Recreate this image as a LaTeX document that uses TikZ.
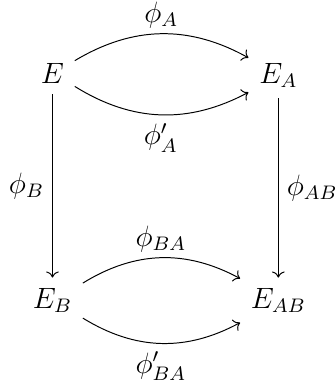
\documentclass[tikz,border=0pt]{standalone}
\usepackage{amsmath,amssymb}
\usepackage{tikz}
\usetikzlibrary{arrows.meta, positioning}
\tikzset{
  %% Objects of the square
  obj/.style={anchor=base, inner sep=4.2pt},
  %% Morphisms
  mor/.style={->, line width=0.4pt},
  %% Morphism labels
  lbl/.style={inner sep=3.3pt},
  lblup/.style={above, inner sep=2.2pt},
}

\begin{document}
\begin{tikzpicture}[every node/.style={font=\fontsize{12}{14.5}\selectfont}]
  \useasboundingbox (-0.753,-4.343) rectangle (4.04,1.195);

  %% Corners
  \node[obj] (E)   at (0,0)        {$E$};
  \node[obj] (EA)  at (3.24,0)     {$E_A$};
  \node[obj] (EB)  at (0,-3.23)    {$E_B$};
  \node[obj] (EAB) at (3.24,-3.23) {$E_{AB}$};

  %% Parallel pairs
  \draw[mor] (E)  to[bend left=30]  node[lblup]      {$\phi_A$}     (EA);
  \draw[mor] (E)  to[bend right=30] node[lbl, below] {$\phi'_A$}    (EA);
  \draw[mor] (EB) to[bend left=30]  node[lblup]      {$\phi_{BA}$}  (EAB);
  \draw[mor] (EB) to[bend right=30] node[lbl, below] {$\phi'_{BA}$} (EAB);

  %% Vertical arrows
  \draw[mor] (E)  -- node[lbl, left]  {$\phi_B$}    (EB);
  \draw[mor] (EA) -- node[lbl, right] {$\phi_{AB}$} (EAB);

\end{tikzpicture}
\end{document}
